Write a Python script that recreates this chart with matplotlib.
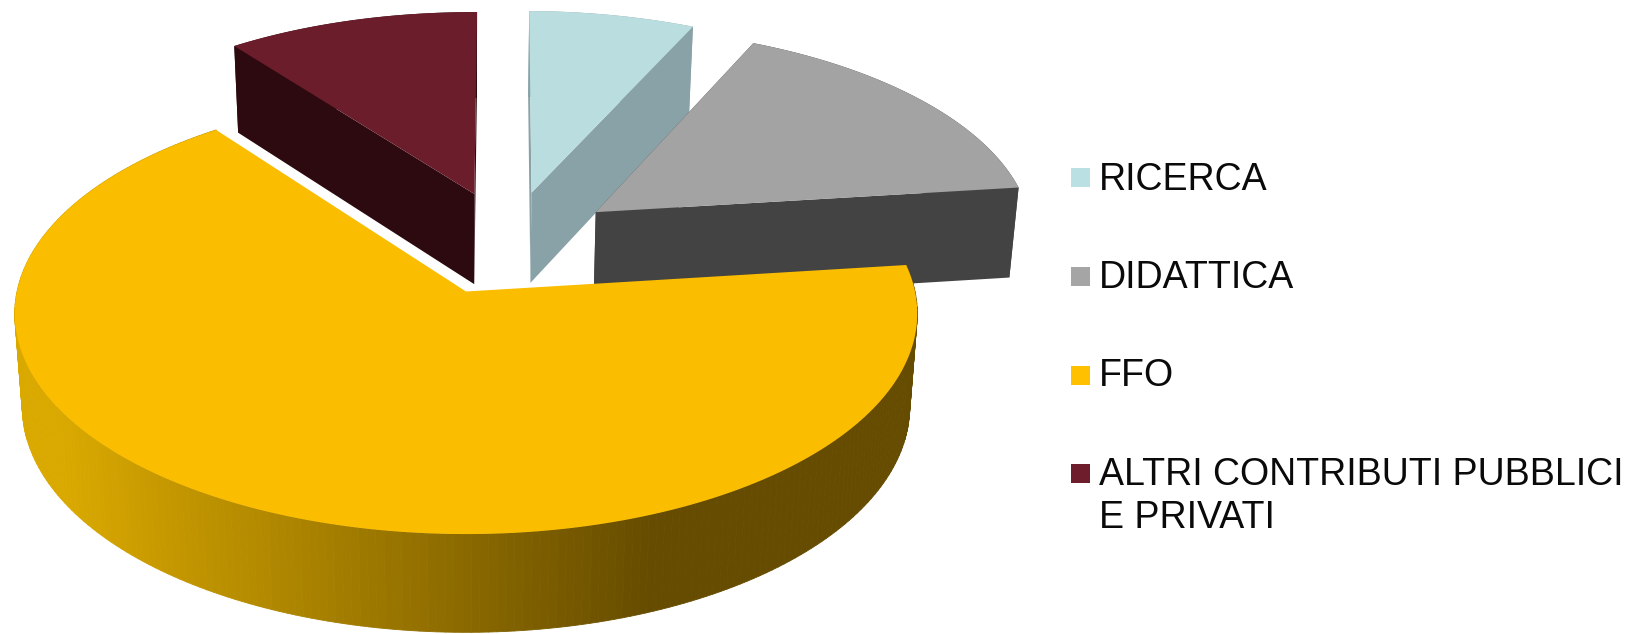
import numpy as np
import matplotlib
matplotlib.use('Agg')
import matplotlib.pyplot as plt
from matplotlib.patches import Polygon, Rectangle
from matplotlib.collections import PolyCollection
from matplotlib.colors import to_rgb

plt.rcParams['font.family'] = ['Liberation Sans', 'DejaVu Sans']

labels = ['RICERCA', 'DIDATTICA', 'FFO', 'ALTRI CONTRIBUTI PUBBLICI\nE PRIVATI']
values = [6.8, 16.1, 66.7, 10.4]
top_colors = ['#BADDDF', '#A3A3A3', '#FBBD00', '#6C1D2B']
wall_colors = ['#89A2A7', '#434343', None, '#2D0A10']
legend_colors = ['#BBE0E3', '#A5A5A5', '#FFC000', '#6D1D2B']
draw_order = [0, 3, 1, 2]

start_angle = 89.5
explode = 0.25
tip_x = 466.0
# ffo tip on the top face and on the bottom face
top_face = (291.5, 449.0, 218.3)
bottom_face = (384.0, 441.5, 223.5)
persp = 0.1

angles = start_angle - np.cumsum([0] + values) / sum(values) * 360
mids = np.radians((angles[:-1] + angles[1:]) / 2)
off_x = explode * np.cos(mids)
off_y = explode * np.sin(mids)


def project(x, y, face):
    # x, y on the pie plane, relative to the tip of the FFO slice
    tip_y, scale_x, scale_y = face
    w = 1 + persp * y
    return tip_x + scale_x * x / w, tip_y - scale_y * y / w


def slice_points(i):
    t = np.radians(np.linspace(angles[i], angles[i + 1], 240))
    cx, cy = off_x[i] - off_x[2], off_y[i] - off_y[2]
    return cx + np.cos(t), cy + np.sin(t), cx, cy


def ffo_shade(x):
    left, right = np.array(to_rgb('#DAA900')), np.array(to_rgb('#664C00'))
    f = np.clip((x - 60) / (650 - 60), 0, 1)
    return tuple(left + (right - left) * f)


fig = plt.figure(figsize=(16.3, 6.34), dpi=100)
ax = fig.add_axes([0, 0, 1, 1])
ax.set_xlim(0, 1630)
ax.set_ylim(634, 0)
ax.axis('off')

for i in draw_order:
    x, y, x0, y0 = slice_points(i)
    rx, ry = project(x, y, top_face)
    bx, by = project(x, y, bottom_face)
    cx, cy = project(x0, y0, top_face)
    cbx, cby = project(x0, y0, bottom_face)
    if wall_colors[i] is None:
        quads = []
        cols = []
        for j in range(len(rx) - 1):
            quads.append([(rx[j], ry[j]), (rx[j + 1], ry[j + 1]), (bx[j + 1], by[j + 1]), (bx[j], by[j])])
            cols.append(ffo_shade((rx[j] + rx[j + 1]) / 2))
        ax.add_collection(PolyCollection(quads, facecolors=cols, edgecolors=cols, linewidths=0.6))
    else:
        c = wall_colors[i]
        ax.add_patch(Polygon(np.column_stack([np.r_[rx, bx[::-1]], np.r_[ry, by[::-1]]]), fc=c, ec='none'))
        for k in (0, -1):
            ax.add_patch(Polygon([(cx, cy), (rx[k], ry[k]), (bx[k], by[k]), (cbx, cby)], fc=c, ec='none'))
    ax.add_patch(Polygon(np.column_stack([np.r_[cx, rx], np.r_[cy, ry]]), fc=top_colors[i], ec='none'))

# legend
legend_y = [177.3, 276.3, 375, 473.5]
text_y = [190, 288, 386.5, 485]
for lab, col, y, ty in zip(labels, legend_colors, legend_y, text_y):
    ax.add_patch(Rectangle((1071, y - 9.5), 19, 19, fc=col, ec='none'))
    for n, line in enumerate(lab.split('\n')):
        ax.text(1099, ty + 43 * n, line, fontsize=27, color='#0A0A0A', ha='left', va='baseline')

fig.savefig('out.png', dpi=100, facecolor='white')
